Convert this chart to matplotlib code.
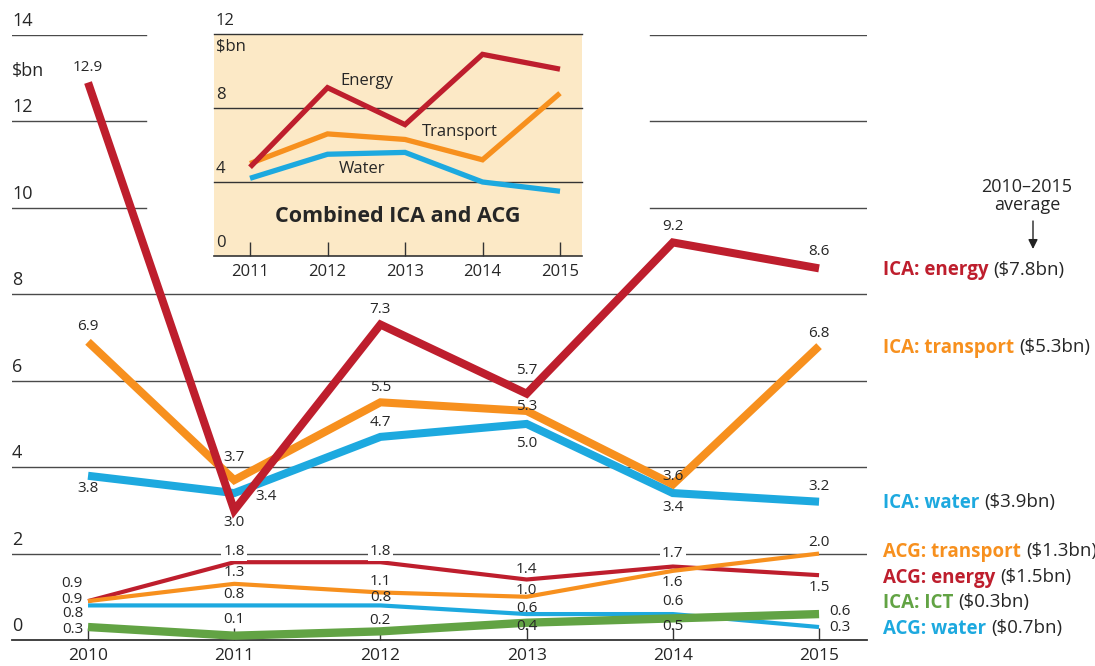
import matplotlib
matplotlib.use('Agg')
import matplotlib.pyplot as plt
from matplotlib.patches import FancyArrowPatch

plt.rcParams['font.family'] = ['Open Sans', 'DejaVu Sans']

W, H = 1095, 666

# ---------------- data ----------------
years = [2010, 2011, 2012, 2013, 2014, 2015]
ica_energy = [12.9, 3.0, 7.3, 5.7, 9.2, 8.6]
ica_transport = [6.9, 3.7, 5.5, 5.3, 3.6, 6.8]
ica_water = [3.8, 3.4, 4.7, 5.0, 3.4, 3.2]
acg_energy = [0.9, 1.8, 1.8, 1.4, 1.7, 1.5]
acg_transport = [0.9, 1.3, 1.1, 1.0, 1.6, 2.0]
acg_water = [0.8, 0.8, 0.8, 0.6, 0.6, 0.3]
ica_ict = [0.3, 0.1, 0.2, 0.4, 0.5, 0.6]

inset_years = [2011, 2012, 2013, 2014, 2015]
comb_energy = [4.8, 9.1, 7.1, 10.9, 10.1]
comb_transport = [5.0, 6.6, 6.3, 5.2, 8.8]
comb_water = [4.2, 5.5, 5.6, 4.0, 3.5]

main_yticks = [0, 2, 4, 6, 8, 10, 12, 14]
inset_yticks = [0, 4, 8, 12]

legend_names = ['ICA: energy', 'ICA: transport', 'ICA: water', 'ACG: transport',
                'ACG: energy', 'ICA: ICT', 'ACG: water']
legend_avgs = ['($7.8bn)', '($5.3bn)', '($3.9bn)', '($1.3bn)', '($1.5bn)',
               '($0.3bn)', '($0.7bn)']
inset_names = ['Energy', 'Transport', 'Water']

# ---------------- style ----------------
RED = '#BE1E2D'
ORANGE = '#F7901E'
BLUE = '#1DA9DF'
GREEN = '#62A344'
TXT = '#262626'
GRID = '#4a4a4a'
BEIGE = '#FCE9C6'

fig = plt.figure(figsize=(W / 100, H / 100), dpi=100)

ax = fig.add_axes([12 / W, 26 / H, 855 / W, 605 / H])
ax.set_xlim(2009.480, 2015.328)
ax.set_ylim(0, 14)
for s in ['top', 'right', 'left']:
    ax.spines[s].set_visible(False)
ax.spines['bottom'].set_color('#333333')
ax.spines['bottom'].set_linewidth(1.3)
ax.set_yticks([])
ax.set_xticks(years)
ax.set_xticklabels([str(y) for y in years], fontsize=12.5, color=TXT)
ax.tick_params(axis='x', direction='in', length=9, width=1, color='#333333', pad=6)

# gridlines
for v in main_yticks[1:]:
    if v >= 10:
        ax.axhline(v, xmin=0, xmax=0.1567, color=GRID, lw=1, zorder=1)
        ax.axhline(v, xmin=0.7462, xmax=1, color=GRID, lw=1, zorder=1)
    else:
        ax.axhline(v, color=GRID, lw=1, zorder=1)
for v in main_yticks:
    ax.annotate(str(v), xy=(0, v), xycoords=('axes fraction', 'data'),
                xytext=(0, 14), textcoords='offset pixels', ha='left', va='center',
                fontsize=13, color=TXT)
ax.annotate('$bn', xy=(0, 14), xycoords=('axes fraction', 'data'),
            xytext=(0, -36), textcoords='offset pixels', ha='left', va='center',
            fontsize=13, color=TXT)

series = [
    (ica_water, BLUE, 5.8, 4),
    (ica_transport, ORANGE, 5.8, 5),
    (ica_energy, RED, 5.8, 6),
    (acg_water, BLUE, 3.0, 3),
    (acg_energy, RED, 3.0, 3.2),
    (acg_transport, ORANGE, 3.0, 3.3),
    (ica_ict, GREEN, 6.0, 3.5),
]
for vals, c, lw, z in series:
    ax.plot(years, vals, color=c, lw=lw, zorder=z, solid_joinstyle='miter',
            solid_capstyle='butt', clip_on=False)

# data label offsets (pixels): (dx, dy)
offsets = {
    'ica_energy': [(0, 15), (0, -12), (0, 15), (0, 23), (0, 16), (0, 17)],
    'ica_transport': [(0, 15), (0, 23), (0, 15), (0, 4), (0, 8), (0, 13)],
    'ica_water': [(0, -13), (21, -3), (0, 14), (0, -20), (0, -14), (0, 15)],
    'acg_energy': [(-5, 18), (0, 11), (0, 11), (0, 10), (0, 13), (0, -12)],
    'acg_transport': [(-5, 2), (0, 11), (0, 11), (0, 6), (0, -12), (0, 11)],
    'acg_water': [(-5, -8), (0, 11), (0, 8), (0, 6), (0, 13), (10, 0)],
    'ica_ict': [(-5, -2), (0, 16), (0, 11), (0, -4), (0, -8), (10, 3)],
}
data_map = {
    'ica_energy': ica_energy, 'ica_transport': ica_transport, 'ica_water': ica_water,
    'acg_energy': acg_energy, 'acg_transport': acg_transport, 'acg_water': acg_water,
    'ica_ict': ica_ict,
}
for key, vals in data_map.items():
    for (x, v), (dx, dy) in zip(zip(years, vals), offsets[key]):
        ha = 'center' if dx == 0 else ('right' if dx < 0 else 'left')
        kw = {}
        if key == 'acg_energy' and v >= 1.7:
            kw['bbox'] = dict(facecolor='white', edgecolor='none', pad=1.5)
        ax.annotate(f'{v:.1f}', xy=(x, v), xytext=(dx, dy), textcoords='offset pixels',
                    ha=ha, va='center', fontsize=11, color=TXT, zorder=10, **kw)

# ---------------- inset ----------------
axi = fig.add_axes([214 / W, 1 - 256 / H, 368 / W, 222 / H])
axi.set_facecolor(BEIGE)
axi.set_xlim(2010.535, 2015.284)
axi.set_ylim(0, 12)
for s in ['top', 'right', 'left']:
    axi.spines[s].set_visible(False)
axi.spines['bottom'].set_color('#333333')
axi.spines['bottom'].set_linewidth(1.2)
axi.set_yticks([])
axi.set_xticks(inset_years)
axi.set_xticklabels([str(y) for y in inset_years], fontsize=12, color=TXT)
axi.tick_params(axis='x', direction='in', length=10, width=1, color='#333333', pad=6)
for v in inset_yticks[1:]:
    axi.axhline(v, color='#333333', lw=1, zorder=1, clip_on=False)
for v in inset_yticks:
    axi.annotate(str(v), xy=(0.005, v), xycoords=('axes fraction', 'data'),
                 xytext=(0, 13), textcoords='offset pixels', ha='left', va='center',
                 fontsize=12, color=TXT, annotation_clip=False)
axi.annotate('$bn', xy=(0.005, 12), xycoords=('axes fraction', 'data'),
             xytext=(0, -13), textcoords='offset pixels', ha='left', va='center',
             fontsize=12, color=TXT)
for vals, c, z in [(comb_water, BLUE, 3), (comb_transport, ORANGE, 4), (comb_energy, RED, 5)]:
    axi.plot(inset_years, vals, color=c, lw=3.8, zorder=z, solid_joinstyle='miter',
             solid_capstyle='butt')
inset_label_pos = [(0.416, 0.788), (0.668, 0.559), (0.402, 0.392)]
for name, (px, py) in zip(inset_names, inset_label_pos):
    axi.text(px, py, name, transform=axi.transAxes, ha='center', va='center',
             fontsize=12, color=TXT, zorder=6)
axi.text(0.5, 0.176, 'Combined ICA and ACG', transform=axi.transAxes, ha='center',
         va='center', fontsize=15.5, fontweight='bold', color=TXT)

# ---------------- right-hand labels ----------------
legend_colors = [RED, ORANGE, BLUE, ORANGE, RED, GREEN, BLUE]
legend_y = [268, 345, 500, 549, 575, 600, 626]
fig.canvas.draw()
r = fig.canvas.get_renderer()
for name, avg, c, yp in zip(legend_names, legend_avgs, legend_colors, legend_y):
    t = fig.text(883 / W, 1 - yp / H, name, color=c, fontweight='bold', fontsize=13.5,
                 ha='left', va='center_baseline')
    bb = t.get_window_extent(r)
    fig.text((bb.x1 + 5) / W, 1 - yp / H, avg, color=TXT, fontsize=13.5,
             ha='left', va='center_baseline')

fig.text(1027 / W, 1 - 196 / H, '2010\u20132015\naverage', ha='center', va='center',
         fontsize=13, color=TXT, linespacing=1.05)
fig.add_artist(FancyArrowPatch(
    (1033 / W, 1 - 221 / H), (1033 / W, 1 - 249 / H), transform=fig.transFigure,
    arrowstyle='-|>', mutation_scale=14, color='#222222', lw=1,
    shrinkA=0, shrinkB=0))

fig.savefig('out.png', dpi=100)
